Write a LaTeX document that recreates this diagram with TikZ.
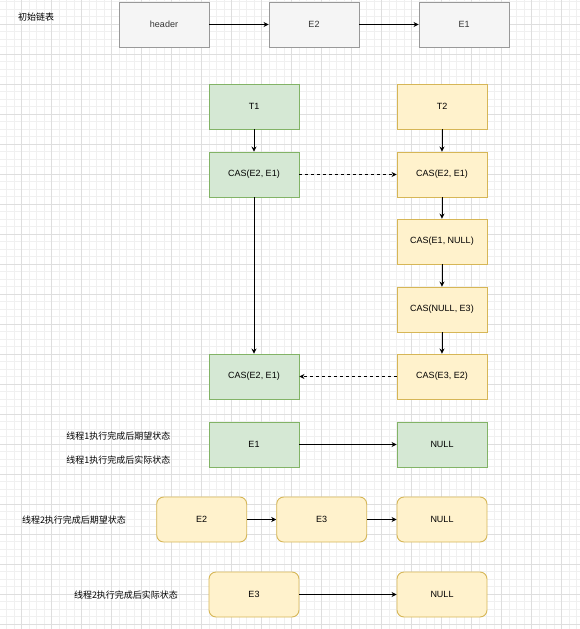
\documentclass[tikz,border=0pt]{standalone}
\usepackage{fontspec}
\setmainfont{Liberation Sans}
\newfontfamily\cjk{Noto Sans CJK SC}
\usetikzlibrary{arrows.meta}

\definecolor{greenfill}{HTML}{D5E8D4}
\definecolor{greenline}{HTML}{82B366}
\definecolor{yellowfill}{HTML}{FFF2CC}
\definecolor{yellowline}{HTML}{D6B656}
\definecolor{grayfill}{HTML}{F5F5F5}
\definecolor{grayline}{HTML}{999999}

\tikzset{
  box/.style={draw,line width=0.9pt,minimum width=90pt,minimum height=45pt,
    inner sep=0pt,font=\fontsize{9}{10}\selectfont},
  graybox/.style={box,fill=grayfill,draw=grayline,text=black!80},
  greenbox/.style={box,fill=greenfill,draw=greenline},
  yellowbox/.style={box,fill=yellowfill,draw=yellowline},
  yellowround/.style={yellowbox,rounded corners=7pt},
  note/.style={font=\cjk\fontsize{9}{10}\selectfont},
  link/.style={line width=0.8pt,-{Stealth[length=5pt,width=5pt]}},
  dashlink/.style={link,dash pattern=on 3pt off 3pt}
}

\begin{document}
\begin{tikzpicture}[x=1pt,y=-1pt]
        \useasboundingbox (0,0) rectangle (580,629);
        \clip (0,0) rectangle (580,629);
        % background grid
        \foreach \i in {0,...,79} \draw[black!6,line width=0.6pt] ({-8.5+7.5*\i},0) -- ({-8.5+7.5*\i},629);
        \foreach \i in {0,...,84} \draw[black!6,line width=0.6pt] (0,{-6+7.5*\i}) -- (580,{-6+7.5*\i});
        \foreach \i in {0,...,20} \draw[black!13,line width=0.7pt] ({-8.5+30*\i},0) -- ({-8.5+30*\i},629);
        \foreach \i in {0,...,21} \draw[black!13,line width=0.7pt] (0,{-6+30*\i}) -- (580,{-6+30*\i});
        % initial list
        \node[note] (title) at (36,17) {初始链表};
        \node[graybox] (header) at (164,24.5) {header};
        \node[graybox] (le2) at (314,24.5) {E2};
        \node[graybox] (le1) at (464,24.5) {E1};
        \draw[link] (header) -- (le2);
        \draw[link] (le2) -- (le1);
        % thread 1
        \node[greenbox] (t1) at (254,106.5) {T1};
        \node[greenbox] (casa) at (254,174.5) {CAS(E2, E1)};
        \node[greenbox] (casb) at (254,376.5) {CAS(E2, E1)};
        % thread 2
        \node[yellowbox] (t2) at (442,106.5) {T2};
        \node[yellowbox] (casc) at (442,174.5) {CAS(E2, E1)};
        \node[yellowbox] (casd) at (442,241.5) {CAS(E1, NULL)};
        \node[yellowbox] (case) at (442,309.5) {CAS(NULL, E3)};
        \node[yellowbox] (casf) at (442,376.5) {CAS(E3, E2)};
        \draw[link] (t1) -- (casa);
        \draw[link] (casa) -- (casb);
        \draw[link] (t2) -- (casc);
        \draw[link] (casc) -- (casd);
        \draw[link] (casd) -- (case);
        \draw[link] (case) -- (casf);
        \draw[dashlink] (casa) -- (casc);
        \draw[dashlink] (casf) -- (casb);
        % results of thread 1
        \node[note] (want1) at (118.3,436) {线程1执行完成后期望状态};
        \node[note] (real1) at (118.3,460) {线程1执行完成后实际状态};
        \node[greenbox] (oe1) at (254,444.5) {E1};
        \node[greenbox] (onull) at (442,444.5) {NULL};
        \draw[link] (oe1) -- (onull);
        % results of thread 2
        \node[note] (want2) at (74,520) {线程2执行完成后期望状态};
        \node[yellowround] (pe2) at (201.7,519.5) {E2};
        \node[yellowround] (pe3) at (321.7,519.5) {E3};
        \node[yellowround] (pnull) at (442,519.5) {NULL};
        \draw[link] (pe2) -- (pe3);
        \draw[link] (pe3) -- (pnull);
        \node[note] (real2) at (126,595) {线程2执行完成后实际状态};
        \node[yellowround] (qe3) at (254,594.5) {E3};
        \node[yellowround] (qnull) at (442,594.5) {NULL};
        \draw[link] (qe3) -- (qnull);
      \end{tikzpicture}
\end{document}
